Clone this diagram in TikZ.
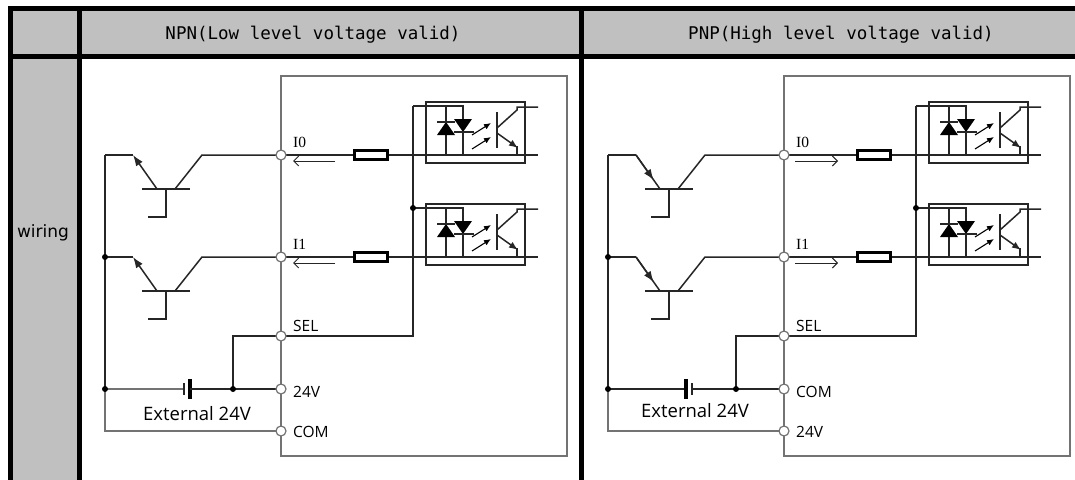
\documentclass[tikz,border=0pt]{standalone}
\usepackage{fontspec}
\usetikzlibrary{arrows.meta,calc}
\newfontfamily\hdrfont{DejaVu Sans Mono}
\newfontfamily\lblfont{Open Sans}
\newfontfamily\wirfont{DejaVu Sans}
\newfontfamily\serfont{Liberation Serif}
\definecolor{cellgray}{HTML}{C0C0C0}
\tikzset{
 tbl/.style={line width=5pt, draw=black},
 wire/.style={line width=1.5pt, draw=black!85},
 gwire/.style={line width=1.5pt, draw=black!55},
 modbox/.style={line width=1.4pt, draw=black!55},
 term/.style={circle, draw=black!55, fill=white, line width=1.2pt, minimum size=10pt, inner sep=0pt},
 jdot/.style={circle, fill=black, minimum size=6pt, inner sep=0pt},
 resbox/.style={draw=black, line width=3.2pt, fill=white, minimum width=33pt, minimum height=9pt, inner sep=0pt},
 optobox/.style={draw=black!85, line width=1.5pt},
 cur/.style={line width=1pt, draw=black!85, -{Straight Barb[length=5pt,width=10pt]}},
 emit/.style={line width=1.5pt, draw=black!85, -{Latex[length=11pt,width=8pt]}},
 photo/.style={line width=1.1pt, draw=black, -{Latex[length=7pt,width=6pt]}},
 plate/.style={line width=3.5pt, draw=black},
 lbl/.style={font=\lblfont\fontsize{15.5}{16}\selectfont, text=black, inner sep=0pt, anchor=base west},
 serlbl/.style={font=\serfont\fontsize{15.5}{15}\selectfont, text=black, inner sep=0pt, anchor=base west},
 extlbl/.style={font=\lblfont\fontsize{18.5}{19}\selectfont, text=black, inner sep=0pt, anchor=base},
 hdr/.style={font=\hdrfont\fontsize{17.5}{20}\selectfont, text=black, inner sep=0pt, anchor=base},
}
% #1 = 0 for NPN panel, 1 for PNP panel
\newcommand\panelbody[1]{%
 \draw[modbox] (281,76) rectangle (567,456);
 \coordinate (LTop) at (413,106);
 \coordinate (SEL) at (281,336);
 \coordinate (TA) at (281,389);
 \coordinate (TB) at (281,431);
 \coordinate (J) at (233,389);
 \coordinate (BB) at (105,389);
 \coordinate (BL) at (105,431);
 \coordinate (SB) at (413,336);
 \coordinate (SJ) at (233,336);
 \foreach \r/\y in {0/155,1/257}{
  \coordinate (T\r) at (281,\y);
  \coordinate (C\r) at (202,\y);
  \coordinate (CB\r) at (175,\y+34);
  \coordinate (EB\r) at (157,\y+34);
  \coordinate (E\r) at (133,\y);
  \coordinate (B\r) at (105,\y);
  \coordinate (LT\r) at (413,\y-49);
  \coordinate (OUT\r) at (538,\y);
  % transistor
  \draw[wire] (T\r) -- (C\r) -- (CB\r);
  \draw[wire] (142,\y+34) -- (190,\y+34);
  \draw[wire] (166,\y+34) -- (166,\y+62) -- (148,\y+62);
  \draw[wire] (E\r) -- (B\r);
  \ifnum#1=0
   \draw[emit] (EB\r) -- (E\r);
   \draw[cur] (335,\y+6) -- (293,\y+6);
  \else
   \draw[wire] (E\r) -- (EB\r);
   \draw[emit] (E\r) -- ($(E\r)!0.74!(EB\r)$);
   \draw[cur] (292,\y+6) -- (335,\y+6);
  \fi
  % resistor and input wire
  \node[resbox] (R\r) at (371,\y) {};
  \draw[wire] (T\r) -- (R\r.west);
  \draw[wire] (R\r.east) -- (OUT\r);
  % optocoupler
  \draw[optobox] (426,\y-53) rectangle (525,\y+8);
  \draw[wire] (LT\r) -- (463,\y-49) -- (463,\y);
  \draw[wire] (446,\y-49) -- (446,\y);
  \fill (437,\y-20) -- (455,\y-20) -- (446,\y-33) -- cycle;
  \draw[wire] (437,\y-33) -- (455,\y-33);
  \fill (454,\y-36) -- (472,\y-36) -- (463,\y-23) -- cycle;
  \draw[wire] (454,\y-23) -- (474,\y-23);
  \draw[photo] (472,\y-20) -- (491,\y-32);
  \draw[photo] (472,\y-6) -- (491,\y-18);
  \draw[wire] (497,\y-43) -- (497,\y-7);
  \draw[wire] (497,\y-27) -- (517,\y-45) -- (517,\y-48) -- (538,\y-48);
  \draw[emit, -{Latex[length=9pt,width=7pt]}] (497,\y-22) -- (518,\y-7);
  \draw[wire] (517,\y-9) -- (517,\y);
  \node[serlbl] (IL\r) at (293,\y-8) {I\r};
 }
 % buses
 \draw[wire] (LTop) -- (SB) -- (SEL);
 \draw[wire] (SEL) -- (SJ) -- (J);
 \draw[wire] (B0) -- (BB);
 \draw[gwire] (BB) -- (BL) -- (TB);
 \ifnum#1=0
  \draw[gwire] (BB) -- (184,389);
  \draw[wire] (184,383) -- (184,395);
  \draw[plate] (190,379) -- (190,399);
  \draw[wire] (190,389) -- (TA);
  \node[lbl] (lA) at (293,397) {24V};
  \node[lbl] (lB) at (293,437) {COM};
  \node[extlbl] (ext) at (197,420) {External 24V};
 \else
  \draw[wire] (BB) -- (183,389);
  \draw[plate] (183,379) -- (183,399);
  \draw[wire] (189,383) -- (189,395);
  \draw[wire] (189,389) -- (TA);
  \node[lbl] (lA) at (293,397) {COM};
  \node[lbl] (lB) at (293,437) {24V};
  \node[extlbl] (ext) at (192,417) {External 24V};
 \fi
 \node[lbl] (lS) at (293,331) {SEL};
 % dots and terminals
 \node[jdot] (d1) at (B1) {};
 \node[jdot] (d2) at (BB) {};
 \node[jdot] (d3) at (J) {};
 \node[jdot] (d4) at (LT1) {};
 \foreach \p in {T0,T1,SEL,TA,TB}{\node[term] (c\p) at (\p) {};}
}
\begin{document}
\begin{tikzpicture}[x=1pt,y=-1pt]
\useasboundingbox (0,0) rectangle (1075,479);
\clip (0,0) rectangle (1075,479);
\fill[white] (0,0) rectangle (1075,479);
\fill[cellgray] (10,8) rectangle (1085,56);
\fill[cellgray] (10,56) rectangle (79,490);
\draw[tbl] (1085,8) -- (10,8) -- (10,490);
\draw[tbl] (10,56) -- (1085,56);
\draw[tbl] (79,8) -- (79,490);
\draw[tbl] (581,8) -- (581,490);
\node[hdr] (hL) at (313,39) {NPN(Low level voltage valid)};
\node[hdr] (hR) at (841,39) {PNP(High level voltage valid)};
\node[font=\wirfont\fontsize{17}{17}\selectfont, text=black, inner sep=0pt, anchor=base] (wr) at (43,237) {wiring};
\begin{scope}[name prefix=L-]
 \panelbody{0}
\end{scope}
\begin{scope}[xshift=503pt, name prefix=R-]
 \panelbody{1}
\end{scope}
\end{tikzpicture}
\end{document}
